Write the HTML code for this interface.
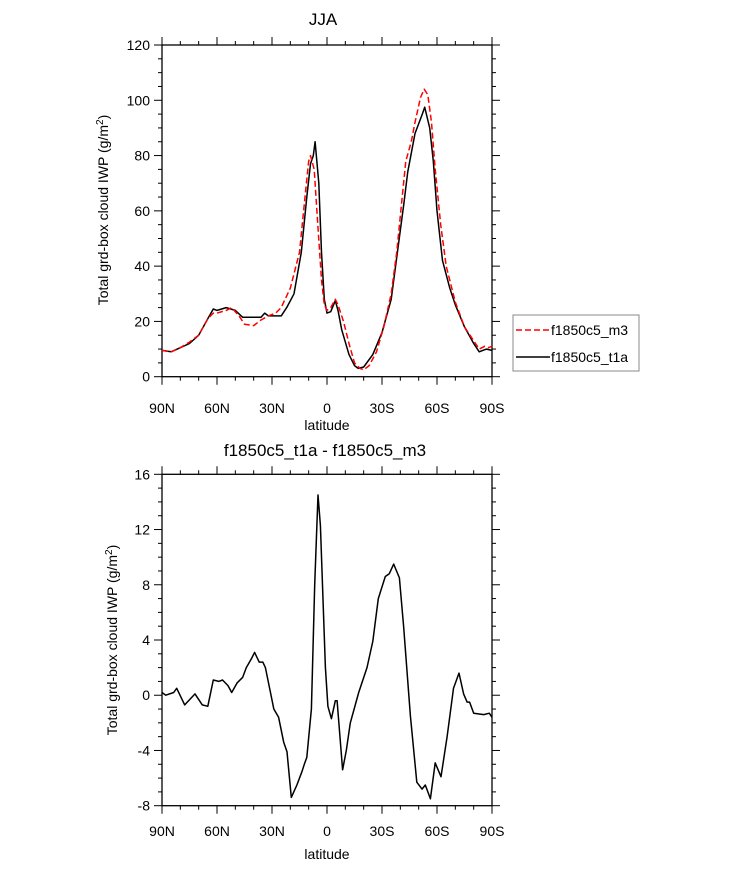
<!DOCTYPE html>
<html><head><meta charset="utf-8"><style>
body{margin:0;background:#fff;}
svg{display:block;font-family:"Liberation Sans",Arial,sans-serif;}
</style></head><body>
<svg id="chart" width="733" height="869" viewBox="0 0 733 869">
<text x="323" y="25" font-size="17" text-anchor="middle">JJA</text>
<text x="325" y="456" font-size="17" text-anchor="middle">f1850c5_t1a - f1850c5_m3</text>
<g id="top"></g>
<g id="bot"></g>
<g>
<rect x="513" y="315" width="126" height="56" fill="none" stroke="#888" stroke-width="1"/>
<line x1="516" y1="330" x2="550" y2="330" stroke="#f00" stroke-width="1.5" stroke-dasharray="6,3"/>
<text x="551" y="335" font-size="14">f1850c5_m3</text>
<line x1="516" y1="357" x2="550" y2="357" stroke="#000" stroke-width="1.5"/>
<text x="551" y="362" font-size="14">f1850c5_t1a</text>
</g>
</svg>
<script>
const xTickLabels=["90N","60N","30N","0","30S","60S","90S"];
const xTickLats=[90,60,30,0,-30,-60,-90];
const topYTicks=[0,20,40,60,80,100,120];
const botYTicks=[-8,-4,0,4,8,12,16];
const t1aLat=[90,85,80,75,70,65,62,60,55,50,46,40,36,34,32,25,22,18,14,11,9,7.5,6.5,4.5,3,1.5,0,-2,-4.5,-6,-8,-12,-15,-17,-20,-25,-30,-35,-39,-42,-44,-48,-52,-53.3,-56,-58,-60,-63,-67,-70,-75,-80,-83,-85,-87,-90];
const t1aVal=[9.5,9,10.5,12,15,21,24.5,24,25,24,21.5,21.5,21.5,23,22,22,25,30,45,65,77,80,85,70,45,28,23,23.5,27.5,24,17,8,4,3,3.5,8,16,28,48,63,74,88,95,97.5,90,78,60,42,32,26,18,12,9,9.5,10,9.5];
const m3Lat=[90,85,80,75,70,65,62,60,55,52,48,45,40,36,32,28,25,20,15,12,10,9,7,5,3,1.5,0,-2,-4.5,-6,-9,-12,-15,-18,-20,-23,-27,-31,-35,-38,-41,-43,-46,-48,-51,-53,-55,-57,-59,-62,-65,-70,-75,-80,-83,-86,-88,-90];
const m3Val=[9.5,9,10.5,12.5,15,21,23,23,24,25,22,19,18.5,20.5,22,23,25,32,45,65,78,80,75,55,35,26,24,25,28,26,20,12,5,3,2.5,4,9,18,30,45,65,78,85,92,101,104,102,92,75,55,40,27,18,13,10,11,10.5,11];
const diffLat=[90,88,83.6,82,77.6,72,68,65,62,59,57,54,52,49,46,44,41,39.5,37,35,33.6,31,29,26.4,23.6,21.8,19.5,16.4,13.6,12.4,11,8.5,6.7,4.9,3.6,0.9,-0.5,-2.4,-4.5,-5.5,-8.5,-10.5,-12.7,-17.3,-21.8,-25,-28,-31.8,-34,-36.4,-39.5,-41.8,-45.5,-49,-51.8,-53.6,-56.4,-59,-62.2,-65.5,-69,-72,-74.5,-76.4,-77.8,-80,-85.5,-88.5,-90];
const diffVal=[0.2,0,0.2,0.5,-0.7,0.1,-0.7,-0.8,1.1,1.0,1.1,0.7,0.2,0.9,1.3,2.0,2.7,3.1,2.4,2.4,2.0,0.3,-1.0,-1.6,-3.4,-4.1,-7.4,-6.5,-5.5,-5,-4.5,-1,8,14.5,12.3,2,-0.8,-1.7,-0.4,-0.4,-5.4,-4,-2,0.2,2,3.9,7,8.6,8.8,9.5,8.5,5,-1.5,-6.3,-6.8,-6.5,-7.5,-4.9,-5.9,-3,0.5,1.6,0.1,-0.5,-0.5,-1.3,-1.4,-1.3,-1.6];

const NS="http://www.w3.org/2000/svg";
function mk(parent,tag,attrs){const e=document.createElementNS(NS,tag);for(const k in attrs)e.setAttribute(k,attrs[k]);parent.appendChild(e);return e;}
const X0=162,X1=492;
function xs(lat){return X0+(90-lat)/180*(X1-X0);}

function panel(g,yTop,yBot,vmin,vmax,yTicks,minorStep,xlabY,latY,ytitleX,ytitleY){
  const ys=v=>yBot-(v-vmin)/(vmax-vmin)*(yBot-yTop);
  const fr=mk(g,'rect',{x:X0,y:yTop,width:X1-X0,height:yBot-yTop,fill:'none',stroke:'#000','stroke-width':1.3});
  
  
  for(let lat=90;lat>=-90;lat-=10){
    const major=lat%30===0, L=major?8:4, x=xs(lat);
    const t1=mk(g,'line',{x1:x,x2:x,y1:yBot,y2:yBot+L,stroke:'#000','stroke-width':1});
    
    
    const t2=mk(g,'line',{x1:x,x2:x,y1:yTop,y2:yTop-L,stroke:'#000','stroke-width':1});
    
    
  }
  xTickLats.forEach((lat,i)=>{
    const t=mk(g,'text',{x:xs(lat),y:xlabY,'font-size':14,'text-anchor':'middle'});
    t.textContent=xTickLabels[i];
    
    
  });
  for(let v=vmin;v<=vmax+1e-9;v+=minorStep){
    const major=yTicks.some(t=>Math.abs(t-v)<1e-9), L=major?8:4, y=ys(v);
    const a=mk(g,'line',{x1:X0,x2:X0-L,y1:y,y2:y,stroke:'#000','stroke-width':1});
    
    
    const b=mk(g,'line',{x1:X1,x2:X1+L,y1:y,y2:y,stroke:'#000','stroke-width':1});
    
    
  }
  yTicks.forEach(v=>{
    const t=mk(g,'text',{x:X0-12,y:ys(v)+5,'font-size':14,'text-anchor':'end'});
    t.textContent=String(v);
    
    
  });
  const xl=mk(g,'text',{x:(X0+X1)/2,y:latY,'font-size':14,'text-anchor':'middle'});
  xl.textContent='latitude';
  
  
  const yl=mk(g,'text',{x:0,y:0,'font-size':14,'text-anchor':'middle',transform:`translate(${ytitleX},${ytitleY}) rotate(-90)`});
  yl.innerHTML='Total grd-box cloud IWP (g/m<tspan dy="-5" font-size="10">2</tspan><tspan dy="5">)</tspan>';
  
  
  return ys;
}
function series(g,lats,vals,ys,color,dash,name){
  const pts=lats.map((l,i)=>xs(l).toFixed(1)+','+ys(vals[i]).toFixed(1)).join(' ');
  const p=mk(g,'polyline',{points:pts,fill:'none',stroke:color,'stroke-width':1.5,'stroke-linejoin':'round'});
  if(dash)p.setAttribute('stroke-dasharray',dash);
  
  
}
const gt=document.getElementById('top'), gb=document.getElementById('bot');
const ysT=panel(gt,45,376.7,0,120,topYTicks,5,413,430,108,210);
series(gt,t1aLat,t1aVal,ysT,'#000',null,'line-t1a');
series(gt,m3Lat,m3Val,ysT,'#f00','6,3','line-m3');
const ysB=panel(gb,474.3,805.7,-8,16,botYTicks,1,836,859,117,640);
series(gb,diffLat,diffVal,ysB,'#000',null,'line-diff');
</script>
</body></html>
